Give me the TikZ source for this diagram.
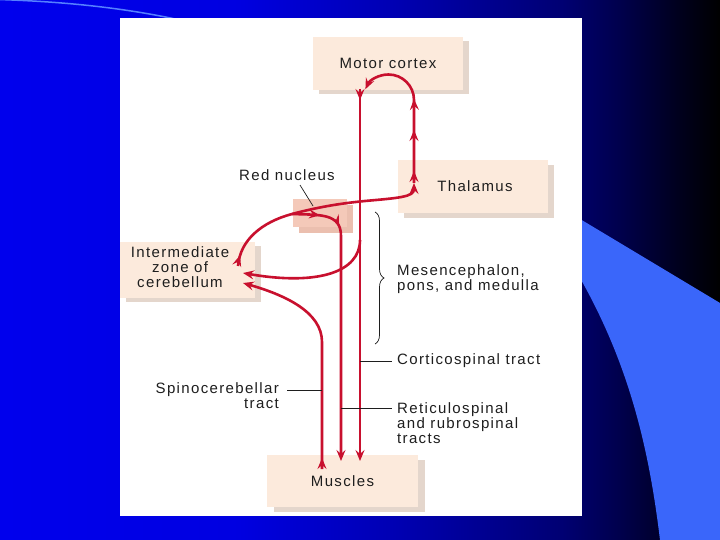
\documentclass[tikz,border=0pt]{standalone}
\usepackage{fontspec}
\setmainfont{Liberation Sans}
\newfontfamily\lblfont[LetterSpace=9]{Liberation Sans}
\usetikzlibrary{arrows.meta,decorations.markings,decorations.pathreplacing}
\definecolor{peach}{HTML}{FCEADC}
\definecolor{peachsh}{HTML}{E4D6CC}
\definecolor{rnfill}{HTML}{F4C9B9}
\definecolor{rnsh}{HTML}{EBBFAF}
\definecolor{tract}{HTML}{C8102E}
\definecolor{swoosh}{HTML}{3A66FA}
\definecolor{arcline}{HTML}{5580FF}
\definecolor{txt}{HTML}{1E1E1E}
\pgfdeclarehorizontalshading{slidebg}{100bp}{rgb(0bp)=(0,0,0.93); rgb(25bp)=(0,0,0.93); rgb(41.5bp)=(0,0,0.88); rgb(52.5bp)=(0,0,0.7); rgb(64bp)=(0,0,0.45); rgb(68bp)=(0,0,0.3); rgb(72bp)=(0,0,0.12); rgb(75bp)=(0,0,0); rgb(100bp)=(0,0,0)}
\begin{document}
\begin{tikzpicture}[x=1pt,y=-1pt,
  lbl/.style={font=\lblfont\fontsize{15}{15}\selectfont, text=txt, inner sep=0pt},
  boxsh/.style={fill=peachsh, draw=none, inner sep=0pt},
  boxmain/.style={fill=peach, draw=none, inner sep=0pt, lbl},
  tipA/.tip={Stealth[length=11pt,width=9pt,inset=4pt]},
  tline/.style={draw=tract, line width=2.6pt},
  leader/.style={draw=txt, line width=0.7pt},
  midtips/.style={postaction={decorate, decoration={markings, #1}}}
]
\useasboundingbox (0,0) rectangle (720,540);
% slide background
\shade[shading=slidebg] (0,0) rectangle (720,540);
\fill[swoosh] (560,207) -- (720,303) -- (720,540) -- (660,540) .. controls (648,440) and (625,345) .. (560,245) -- cycle;
\draw[arcline, line width=1.5pt] (-2,-0.5) .. controls (60,1.5) and (120,7) .. (180,20);
\fill[white] (120,18) rectangle (582,516);

% boxes
\node[boxsh, minimum width=150pt, minimum height=53pt] (mcs) at (394,67.5) {};
\node[boxmain, minimum width=150pt, minimum height=53pt] (mc) at (388,63.5) {Motor cortex};
\node[boxsh, minimum width=150pt, minimum height=53pt] (ths) at (479,191.5) {};
\node[boxmain, minimum width=150pt, minimum height=53pt] (th) at (473,186.5) {\hspace*{4pt}Thalamus};
\node[fill=rnsh, minimum width=54pt, minimum height=28pt, inner sep=0pt] (rns) at (326,219) {};
\node[fill=rnfill, minimum width=54pt, minimum height=28pt, inner sep=0pt] (rn) at (320,213) {};
\node[boxsh, minimum width=135pt, minimum height=56pt] (czs) at (193,274) {};
\node[boxsh, fill=peach, minimum width=135pt, minimum height=56pt] (czb) at (187.5,270) {};
\node[lbl, align=center] (cz) at (180,267) {Intermediate\\zone of\\cerebellum};
\node[boxsh, minimum width=151pt, minimum height=52pt] (mus) at (349.5,486) {};
\node[boxmain, minimum width=151pt, minimum height=52pt] (mu) at (342.5,481) {Muscles};

% labels
\node[lbl] (rnl) at (287,175) {Red nucleus};
\node[lbl, anchor=west, align=left] (mes) at (397,279) {Mesencephalon,\\pons, and medulla};
\node[lbl, anchor=west] (ctl) at (397,361) {Corticospinal tract};
\node[lbl, anchor=west, align=left] (rsl) at (397,423) {Reticulospinal\\and rubrospinal\\tracts};
\node[lbl, anchor=east, align=right] (scl) at (279,396) {Spinocerebellar\\tract};

% coordinates on tracts
\coordinate (ctTop) at (360,89);
\coordinate (ctBot) at (360,461);
\coordinate (rsBot) at (341,461);
\coordinate (scBot) at (322,469);
\coordinate (scEnd) at (243,283);
\coordinate (colStart) at (360,240);
\coordinate (colEnd) at (243,273);
\coordinate (cbStart) at (238,266);
\coordinate (split) at (292,214);
\coordinate (thIn) at (414,183);

% corticospinal tract
\draw[tline, -{tipA}, midtips={mark=at position 11pt with {\arrow{tipA}}}] (ctTop) -- (ctBot);
% thalamus -> motor cortex
\draw[tline, -{tipA}, midtips={mark=at position 12pt with {\arrow{tipA}}, mark=at position 53pt with {\arrow{tipA}}, mark=at position 84pt with {\arrow{tipA}}}]
  (thIn) -- (414,100) arc[start angle=0, end angle=-155, radius=25.5];
% cerebellum -> thalamus
\draw[tline, -{tipA}, midtips={mark=at position 11pt with {\arrow{tipA}}}]
  (cbStart) .. controls (240,240) and (262,222) .. (split)
  .. controls (322,206) and (345,203) .. (365,201)
  .. controls (398,198) and (414,197) .. (thIn);
% cerebellum -> red nucleus -> rubrospinal
\draw[tline, -{tipA}, midtips={mark=at position 28pt with {\arrow{tipA}}, mark=at position 51pt with {\arrow{tipA}}}]
  (split) .. controls (320,215) and (341,213) .. (341,236) -- (rsBot);
% collateral to cerebellum
\draw[tline, -{tipA}] (colStart) .. controls (360,272) and (318,286) .. (colEnd);
% spinocerebellar tract
\draw[tline, -{tipA}, midtips={mark=at position 11pt with {\arrow{tipA}}}]
  (scBot) -- (322,342) .. controls (322,312) and (285,295) .. (scEnd);

% leaders
\coordinate (rnA) at (300,185);
\coordinate (rnB) at (313,206);
\draw[leader] (rnA) -- (rnB);
\coordinate (ctA) at (360,361);
\coordinate (ctB) at (392,361);
\draw[leader] (ctA) -- (ctB);
\coordinate (rsA) at (341,408);
\coordinate (rsB) at (392,408);
\draw[leader] (rsA) -- (rsB);
\coordinate (scA) at (287,390);
\coordinate (scB) at (322,390);
\draw[leader] (scA) -- (scB);
% brace
\coordinate (brT) at (375,212);
\coordinate (brB) at (375,344);
\draw[leader, decorate, decoration={brace, amplitude=9pt, aspect=0.5}] (brT) -- (brB);
\end{tikzpicture}
\end{document}
